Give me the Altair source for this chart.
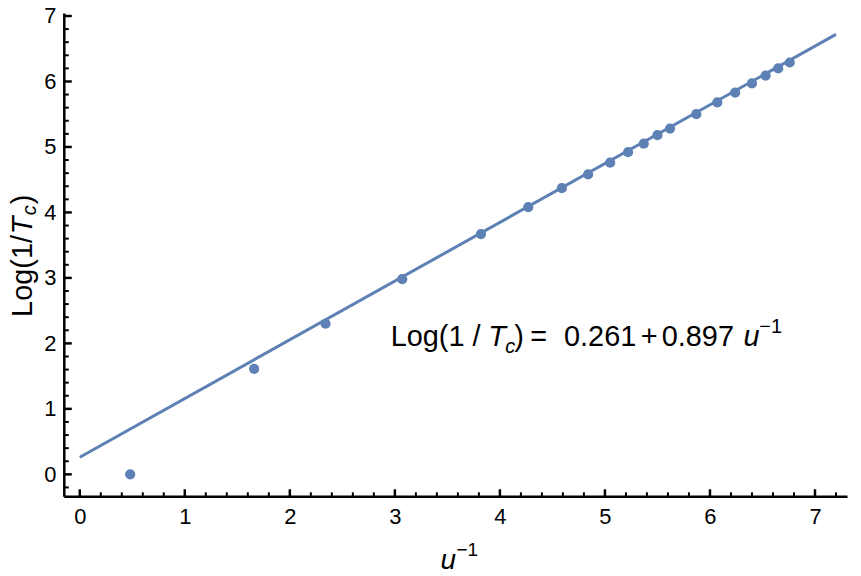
import altair as alt
import pandas as pd

# ---- data ----
u_inv = [0.48, 1.66, 2.34, 3.07, 3.82, 4.27, 4.59, 4.84, 5.05, 5.22, 5.37, 5.50,
         5.62, 5.87, 6.07, 6.24, 6.40, 6.53, 6.65, 6.76]
log_inv_tc = [0.00, 1.61, 2.30, 2.98, 3.67, 4.08, 4.37, 4.58, 4.76, 4.92, 5.05, 5.18,
              5.28, 5.50, 5.68, 5.83, 5.97, 6.09, 6.20, 6.29]
fit_x = [0.0, 7.2]
fit_y = [0.261, 6.719]

x_major = [0, 1, 2, 3, 4, 5, 6, 7]
x_minor = [0.2, 0.4, 0.6, 0.8, 1.2, 1.4, 1.6, 1.8, 2.2, 2.4, 2.6, 2.8, 3.2, 3.4, 3.6, 3.8,
           4.2, 4.4, 4.6, 4.8, 5.2, 5.4, 5.6, 5.8, 6.2, 6.4, 6.6, 6.8, 7.2]
y_major = [0, 1, 2, 3, 4, 5, 6, 7]
y_minor = [-0.2, 0.2, 0.4, 0.6, 0.8, 1.2, 1.4, 1.6, 1.8, 2.2, 2.4, 2.6, 2.8, 3.2, 3.4, 3.6,
           3.8, 4.2, 4.4, 4.6, 4.8, 5.2, 5.4, 5.6, 5.8, 6.2, 6.4, 6.6, 6.8]

BLUE = "#5E81B5"
FONT = "Liberation Sans"
W, H = 786, 485

xs = alt.Scale(domain=[-0.152, 7.305], nice=False, zero=False)
ys = alt.Scale(domain=[-0.335, 7.046], nice=False, zero=False)

pts_df = pd.DataFrame({"u": u_inv, "l": log_inv_tc})
fit_df = pd.DataFrame({"u": fit_x, "l": fit_y})

lab_x = alt.Axis(orient="bottom", values=x_major, tickSize=0, labelFontSize=22, labelFont=FONT,
                 labelColor="black", labelPadding=10, domainColor="black", domainWidth=2.5,
                 grid=False, title=None, format="d", labelFlush=False, labelOverlap=False)
lab_y = alt.Axis(orient="left", values=y_major, tickSize=0, labelFontSize=22, labelFont=FONT,
                 labelColor="black", labelPadding=8, domainColor="black", domainWidth=2.5,
                 grid=False, title=None, format="d", labelFlush=False, labelOverlap=False)


def xticks(vals, length, width):
    return alt.Chart(pd.DataFrame({"v": vals})).mark_rule(color="black", strokeWidth=width).encode(
        x=alt.X("v:Q", scale=xs, axis=None), y=alt.value(H), y2=alt.value(H - length))


def yticks(vals, length, width):
    return alt.Chart(pd.DataFrame({"v": vals})).mark_rule(color="black", strokeWidth=width).encode(
        y=alt.Y("v:Q", scale=ys, axis=None), x=alt.value(0), x2=alt.value(length))


fit_line = alt.Chart(fit_df).mark_line(color=BLUE, strokeWidth=3).encode(
    x=alt.X("u:Q", scale=xs, axis=lab_x), y=alt.Y("l:Q", scale=ys, axis=lab_y))
points = alt.Chart(pts_df).mark_circle(size=105, color=BLUE, opacity=1).encode(
    x=alt.X("u:Q", scale=xs, axis=None), y=alt.Y("l:Q", scale=ys, axis=None))


def txt(s, x, y, size=29, italic=False, angle=0):
    kw = dict(font=FONT, fontSize=size, color="black", align="left", baseline="alphabetic")
    if italic:
        kw["fontStyle"] = "italic"
    if angle:
        kw["angle"] = angle
    return alt.Chart(pd.DataFrame({"t": [s]})).mark_text(**kw).encode(
        text="t:N", x=alt.value(x), y=alt.value(y))


# annotation pieces
ann = [
    txt("Log(1 / ", 328, 334),
    txt("T", 426, 334, italic=True),
    txt("c", 443, 341, size=20, italic=True),
    txt(")", 452, 334),
    txt("=", 468, 334),
    txt("0.261", 502, 334),
    txt("+", 579, 334),
    txt("0.897", 600, 334),
    txt("u", 682, 334, italic=True),
    txt("\u22121", 698, 321, size=20),
]
# x title
xt = [
    txt("u", 378, 558, size=28, italic=True),
    txt("\u22121", 394, 545, size=19),
]
# y title (rotated)
yt = [
    txt("Log(1/", -32, 305, size=29, angle=270),
    txt("T", -32, 222, size=29, angle=270, italic=True),
    txt("c", -28, 203, size=20, angle=270, italic=True),
    txt(")", -32, 192, size=29, angle=270),
]

chart = alt.layer(
    xticks(x_minor, 4, 2), xticks(x_major, 7, 2.5),
    yticks(y_minor, 5, 2), yticks(y_major, 8, 2.5),
    fit_line, points, *ann, *xt, *yt
).resolve_axis(
    x="independent", y="independent"
).properties(
    width=W, height=H,
    autosize=alt.AutoSizeParams(type="none"),
    padding={"left": 56, "top": 4, "right": 6, "bottom": 77},
).configure_view(stroke=None)

chart.save("out.html", embed_options={"renderer": "svg", "actions": False})
